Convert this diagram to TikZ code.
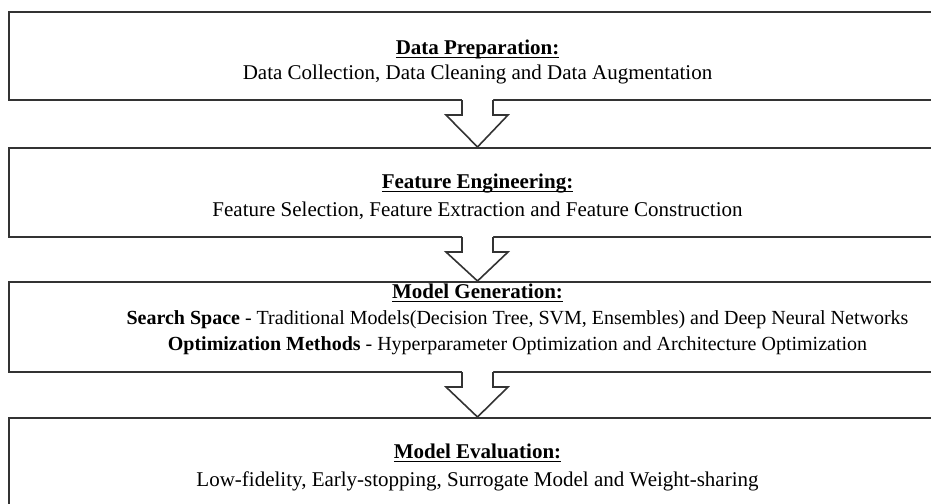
\documentclass[tikz,border=0pt]{standalone}
\usepackage{fontspec}
\setmainfont{Liberation Serif}
\usetikzlibrary{calc}

% hollow block arrow from the bottom of one stage to the top of the next
\newcommand{\hollowarrow}[2]{%
  \fill[white] ($(#1.south)+(-15.5,-4)$) -- ($(#1.south)+(-15.5,14)$)
    -- ($(#1.south)+(-31.5,14)$) -- (#2.north) -- ($(#1.south)+(30.5,14)$)
    -- ($(#1.south)+(15.5,14)$) -- ($(#1.south)+(15.5,-4)$) -- cycle;
  \draw[hollow] ($(#1.south)+(-15.5,-1)$) -- ($(#1.south)+(-15.5,14)$)
    -- ($(#1.south)+(-31.5,14)$) -- (#2.north) -- ($(#1.south)+(30.5,14)$)
    -- ($(#1.south)+(15.5,14)$) -- ($(#1.south)+(15.5,-1)$);}
\newsavebox{\titlebox}
\newcommand{\stagetitle}[2]{\rule{0pt}{#1}\sbox{\titlebox}{\textbf{#2}}%
  \rlap{\vrule width\wd\titlebox height -1.2pt depth 1.8pt}\usebox{\titlebox}}

\begin{document}
\begin{tikzpicture}[x=0.5pt,y=-0.5pt,
    stage/.style={draw=black!80,line width=1pt,fill=white,
                  minimum width=468.5pt,inner sep=0pt,align=center,
                  font=\fontsize{10.5}{13}\selectfont},
    hollow/.style={draw=black!80,line width=0.8pt,line join=miter}
  ]
    \useasboundingbox (0,0) rectangle (931,503);
    \clip (0,0) rectangle (931,503);
    \fill[white] (0,0) rectangle (931,503);

    \node[stage,minimum height=44pt] (prep) at (477.5,56)
      {\stagetitle{13pt}{Data Preparation:}\\[-0.5pt]
       Data Collection, Data Cleaning and Data Augmentation};
    \node[stage,minimum height=44.5pt] (feat) at (477.5,192.5)
      {\stagetitle{12pt}{Feature Engineering:}\\[1pt]
       Feature Selection, Feature Extraction and Feature Construction};
    \node[stage,minimum height=45pt,text depth=10pt] (gen) at (477.5,327)
      {\stagetitle{7pt}{Model Generation:}\\
       \fontsize{10}{13}\selectfont\hspace*{40pt}\textbf{Search Space} - Traditional Models(Decision Tree, SVM, Ensembles) and Deep Neural Networks\\
       \fontsize{10}{13}\selectfont\hspace*{40pt}\textbf{Optimization Methods} - Hyperparameter Optimization and Architecture Optimization};
    \node[stage,minimum height=44.5pt] (eval) at (477.5,462.5)
      {\stagetitle{12pt}{Model Evaluation:}\\[1pt]
       Low-fidelity, Early-stopping, Surrogate Model and Weight-sharing};

    \hollowarrow{prep}{feat}
    \hollowarrow{feat}{gen}
    \hollowarrow{gen}{eval}
  \end{tikzpicture}
\end{document}
